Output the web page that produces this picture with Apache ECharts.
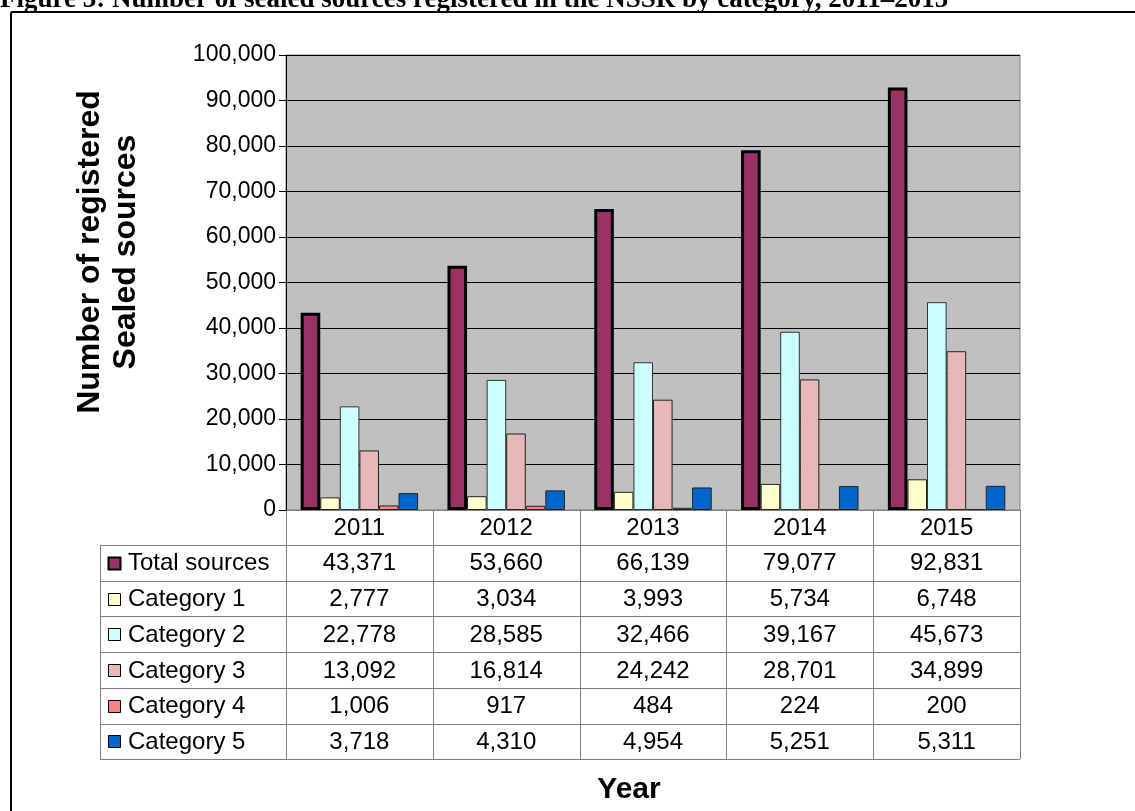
<!DOCTYPE html>
<html>
<head>
<meta charset="utf-8">
<script src="https://cdn.jsdelivr.net/npm/echarts@6/dist/echarts.min.js"></script>
<style>
  html, body { margin: 0; padding: 0; background: #ffffff; }
  #chart { width: 1135px; height: 811px; }
</style>
</head>
<body>
<div id="chart"></div>
<script>
// Registered sealed sources per year, by category
const years = ['2011', '2012', '2013', '2014', '2015'];
const totalSources = [43371, 53660, 66139, 79077, 92831];
const category1 = [2777, 3034, 3993, 5734, 6748];
const category2 = [22778, 28585, 32466, 39167, 45673];
const category3 = [13092, 16814, 24242, 28701, 34899];
const category4 = [1006, 917, 484, 224, 200];
const category5 = [3718, 4310, 4954, 5251, 5311];
const seriesNames = ['Total sources', 'Category 1', 'Category 2', 'Category 3', 'Category 4', 'Category 5'];
const yMin = 0, yMax = 100000, yStep = 10000;

const seriesData = [totalSources, category1, category2, category3, category4, category5];
const fills = ['#993366', '#FFFFCC', '#CCFFFF', '#E6B9B8', '#FF8080', '#0066CC'];
const borders = [
  { color: '#000000', width: 3 },
  { color: '#222222', width: 1 },
  { color: '#333333', width: 1 },
  { color: '#222222', width: 1 },
  { color: '#222222', width: 1 },
  { color: '#222222', width: 1 }
];

const SANS = '"Liberation Sans", Arial, Helvetica, sans-serif';
const SERIF = '"Liberation Serif", "Times New Roman", serif';
const fmt = v => v.toLocaleString('en-US');

const chart = echarts.init(document.getElementById('chart'), null, { renderer: 'canvas' });

const GRID = { left: 286, top: 55, right: 115, bottom: 301 };

chart.setOption({
  animation: false,
  backgroundColor: '#ffffff',
  grid: {
    left: GRID.left, top: GRID.top, right: GRID.right, bottom: GRID.bottom,
    show: true, backgroundColor: '#C0C0C0', borderColor: '#808080', borderWidth: 1
  },
  xAxis: {
    type: 'category',
    data: years,
    axisLine: { show: false },
    axisTick: { show: false },
    axisLabel: { show: false },
    splitLine: { show: false }
  },
  yAxis: {
    type: 'value',
    min: yMin, max: yMax, interval: yStep,
    axisLine: { show: true, lineStyle: { color: '#000000', width: 1 } },
    axisTick: { show: true, inside: false, length: 7, lineStyle: { color: '#000000' } },
    axisLabel: { color: '#000000', fontFamily: SANS, fontSize: 23, margin: 10, formatter: v => fmt(v) },
    splitLine: { show: true, lineStyle: { color: '#000000', width: 1 } }
  },
  series: seriesNames.map((name, i) => ({
    name: name,
    type: 'bar',
    data: seriesData[i],
    barGap: '0%',
    barCategoryGap: '20%',
    itemStyle: { color: fills[i], borderColor: borders[i].color, borderWidth: borders[i].width }
  }))
});

// Data table underneath the plot, laid out from the category axis
function buildTable() {
  const plotLeft = GRID.left;
  const plotRight = 1135 - GRID.right;
  const plotBottom = 811 - GRID.bottom;
  const colW = (plotRight - plotLeft) / years.length;
  const tableLeft = 100;
  const headerH = 35;
  const rowH = 35.7;
  const lineColor = '#808080';
  const cellFont = '24px ' + SANS;
  const els = [];
  const line = (x1, y1, x2, y2) => els.push({
    type: 'line', silent: true,
    shape: { x1: x1, y1: y1, x2: x2, y2: y2 },
    style: { stroke: lineColor, lineWidth: 1 }
  });
  const rowsTop = plotBottom + headerH;
  const tableBottom = rowsTop + rowH * seriesNames.length;

  // header row: year labels
  years.forEach((yr) => {
    const cx = chart.convertToPixel({ xAxisIndex: 0 }, yr);
    els.push({ type: 'text', silent: true, x: cx, y: plotBottom + headerH / 2 + 1,
      style: { text: yr, font: cellFont, fill: '#000', align: 'center', verticalAlign: 'middle' } });
  });
  // vertical lines
  for (let j = 0; j <= years.length; j++) {
    const x = Math.round(plotLeft + j * colW) + 0.5;
    line(x, plotBottom, x, tableBottom);
  }
  line(tableLeft + 0.5, rowsTop, tableLeft + 0.5, tableBottom);
  // horizontal lines
  line(plotLeft, plotBottom + 0.5, plotRight, plotBottom + 0.5);
  for (let r = 0; r <= seriesNames.length; r++) {
    const y = Math.round(rowsTop + r * rowH) + 0.5;
    line(tableLeft, y, plotRight, y);
  }
  // rows: legend key, name, values
  seriesNames.forEach((name, r) => {
    const cy = rowsTop + r * rowH + rowH / 2;
    els.push({ type: 'rect', silent: true,
      shape: { x: 108.5, y: Math.round(cy - 6) + 0.5, width: 12, height: 12 },
      style: { fill: fills[r], stroke: '#000', lineWidth: r === 0 ? 2 : 1 } });
    els.push({ type: 'text', silent: true, x: 128, y: cy + 1,
      style: { text: name, font: cellFont, fill: '#000', align: 'left', verticalAlign: 'middle' } });
    seriesData[r].forEach((v, j) => {
      const cx = chart.convertToPixel({ xAxisIndex: 0 }, years[j]);
      els.push({ type: 'text', silent: true, x: cx, y: cy + 1,
        style: { text: fmt(v), font: cellFont, fill: '#000', align: 'center', verticalAlign: 'middle' } });
    });
  });

  // frame around the figure
  els.push({ type: 'line', silent: true, shape: { x1: 11, y1: 12, x2: 1135, y2: 12 },
    style: { stroke: '#000', lineWidth: 2 } });
  els.push({ type: 'line', silent: true, shape: { x1: 11, y1: 12, x2: 11, y2: 811 },
    style: { stroke: '#000', lineWidth: 2 } });

  // figure caption
  els.push({ type: 'text', silent: true, x: 0, y: 14,
    style: { text: 'Figure 3: Number of sealed sources registered in the NSSR by category, 2011\u20132015',
      font: 'bold 27px ' + SERIF, fill: '#000', align: 'left', verticalAlign: 'bottom' } });

  // axis titles
  els.push({ type: 'text', silent: true, x: 108, y: 252, rotation: Math.PI / 2,
    style: { text: 'Number of registered\nSealed sources', font: 'bold 32px ' + SANS, fill: '#000',
      align: 'center', verticalAlign: 'middle', lineHeight: 36 } });
  els.push({ type: 'text', silent: true, x: 629, y: 790,
    style: { text: 'Year', font: 'bold 30px ' + SANS, fill: '#000', align: 'center', verticalAlign: 'middle' } });

  chart.setOption({ graphic: { elements: els } });
}
buildTable();
</script>
</body>
</html>
